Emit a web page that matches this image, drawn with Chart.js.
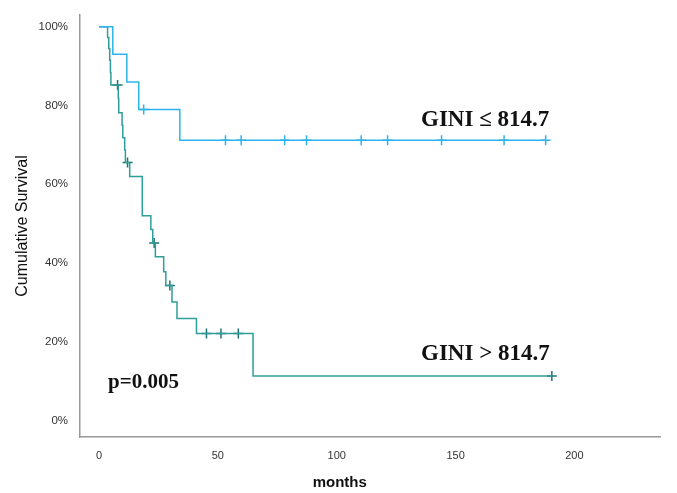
<!DOCTYPE html>
<html><head><meta charset="utf-8">
<script src="https://cdn.jsdelivr.net/npm/chart.js@4.4.0/dist/chart.umd.min.js"></script>
<style>html,body{margin:0;padding:0;background:#fff}#wrap{width:677px;height:493px;position:relative}</style>
</head><body><div id="wrap"><canvas id="c"></canvas></div>
<script>
const xTicks = [0, 50, 100, 150, 200];
const yTicks = [0, 20, 40, 60, 80, 100];
const xTitle = 'months';
const yTitle = 'Cumulative Survival';
const upperLabel = 'GINI \u2264 814.7';
const lowerLabel = 'GINI > 814.7';
const pLabel = 'p=0.005';
const upperTimes = [0, 5.8, 11.7, 16.7, 34.0];
const upperSurv  = [100, 93.0, 86.0, 79.0, 71.2];
const upperEnd = 187.9;
const upperCensorTimes = [18.8, 53.2, 59.8, 78.1, 87.3, 110.3, 121.4, 144.1, 170.4, 187.9];
const lowerTimes = [0, 3.6, 4.1, 4.5, 4.8, 5.0, 8.1, 8.3, 9.7, 10.0, 10.8, 11.1, 12.9, 18.2, 21.8, 22.6, 23.7, 27.2, 28.1, 30.7, 32.8, 41.0, 64.8];
const lowerSurv  = [100, 97.3, 94.5, 91.5, 88.3, 85.2, 81.8, 78.2, 75.0, 71.8, 68.7, 65.5, 62.0, 52.0, 48.5, 45.1, 41.6, 37.8, 34.3, 30.1, 25.9, 22.1, 11.3];
const lowerEnd = 190.5;
const lowerCensorTimes = [7.8, 12.0, 23.2, 29.8, 45.2, 51.3, 58.6, 190.5];

function survAt(times, surv, t) {
  let s = surv[0];
  for (let i = 0; i < times.length; i++) if (times[i] <= t) s = surv[i];
  return s;
}
function stepData(times, surv, end) {
  const d = times.map((t, i) => ({x: t, y: surv[i]}));
  d.push({x: end, y: surv[surv.length - 1]});
  return d;
}
function censorData(times, surv, ct) {
  return ct.map(t => ({x: t, y: survAt(times, surv, t)}));
}

const upperColor = '#2DB4EE';
const lowerColor = '#2E9E9A';
const lowerMark = '#1C7470';

const textPlugin = {
  id: 'texts',
  afterDraw(chart) {
    const ctx = chart.ctx;
    const xs = chart.scales.x;
    ctx.save();
    ctx.fillStyle = '#111';
    ctx.textBaseline = 'alphabetic';
    ctx.textAlign = 'left';
    ctx.font = 'bold 23px "Liberation Serif", "Times New Roman", serif';
    ctx.fillText(upperLabel, 421, 126);
    ctx.fillText(lowerLabel, 421, 360);
    ctx.font = 'bold 21px "Liberation Serif", "Times New Roman", serif';
    ctx.fillText(pLabel, 108, 388);
    ctx.textAlign = 'center';
    ctx.textBaseline = 'middle';
    ctx.font = 'bold 15px "Liberation Sans", Arial, sans-serif';
    ctx.fillText(xTitle, xs.getPixelForValue(100) + 3, 483);
    ctx.restore();
  }
};

new Chart(document.getElementById('c'), {
  type: 'line',
  data: {
    datasets: [
      {data: stepData(upperTimes, upperSurv, upperEnd), stepped: true, borderColor: upperColor, borderWidth: 1.5, pointRadius: 0, fill: false},
      {data: stepData(lowerTimes, lowerSurv, lowerEnd), stepped: true, borderColor: lowerColor, borderWidth: 1.5, pointRadius: 0, fill: false},
      {data: censorData(upperTimes, upperSurv, upperCensorTimes), showLine: false, pointStyle: 'cross', pointRadius: 5, borderWidth: 1.5, borderColor: upperColor, pointHoverRadius: 5},
      {data: censorData(lowerTimes, lowerSurv, lowerCensorTimes), showLine: false, pointStyle: 'cross', pointRadius: 5, borderWidth: 1.5, borderColor: lowerMark, pointHoverRadius: 5}
    ]
  },
  options: {
    responsive: true, maintainAspectRatio: false, animation: false,
    layout: {padding: {top: 15, right: 17, left: 0, bottom: 0}},
    plugins: {legend: {display: false}, tooltip: {enabled: false}},
    scales: {
      x: {
        type: 'linear', min: -8, max: 236,
        afterBuildTicks: s => { s.ticks = xTicks.map(v => ({value: v})); },
        afterFit: s => { s.height = 56; s.paddingLeft = 0; s.paddingRight = 0; },
        grid: {display: true, drawOnChartArea: false, drawTicks: false},
        border: {display: true, color: '#999', width: 1.5},
        ticks: {padding: 12, color: '#333', font: {family: '"Liberation Sans", Arial', size: 11}, maxRotation: 0},
        title: {display: false, text: xTitle}
      },
      y: {
        type: 'linear', min: -4.2, max: 103,
        afterBuildTicks: s => { s.ticks = yTicks.map(v => ({value: v})); },
        afterFit: s => { s.width = 80; s.paddingTop = 0; s.paddingBottom = 0; },
        grid: {display: true, drawOnChartArea: false, drawTicks: false},
        border: {display: true, color: '#999', width: 1.5},
        ticks: {padding: 12, color: '#333', font: {family: '"Liberation Sans", Arial', size: 11.5}, callback: v => v + '%'},
        title: {display: true, text: yTitle, color: '#111', font: {family: '"Liberation Sans", Arial', size: 16}, padding: {top: 13, bottom: 0}}
      }
    }
  },
  plugins: [textPlugin]
});
</script></body></html>
